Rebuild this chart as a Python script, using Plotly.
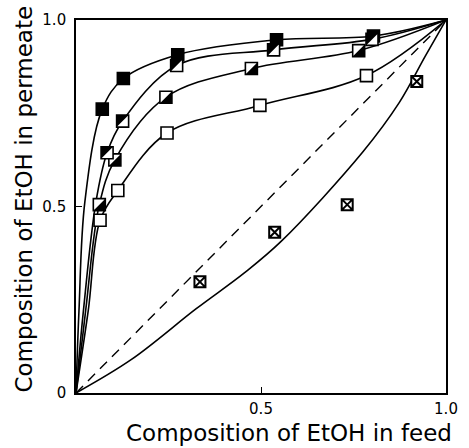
import plotly.graph_objects as go

# ---- data (feed fraction, permeate fraction) ----
feed_A = [0.071, 0.128, 0.275, 0.542, 0.804]
perm_A = [0.761, 0.843, 0.907, 0.947, 0.957]
feed_B = [0.084, 0.126, 0.272, 0.534, 0.800]
perm_B = [0.644, 0.729, 0.878, 0.920, 0.948]
feed_C = [0.063, 0.105, 0.243, 0.474, 0.764]
perm_C = [0.505, 0.625, 0.793, 0.870, 0.918]
feed_D = [0.065, 0.113, 0.246, 0.497, 0.785]
perm_D = [0.463, 0.543, 0.697, 0.771, 0.851]
feed_E = [0.335, 0.537, 0.733, 0.921]
perm_E = [0.298, 0.431, 0.505, 0.835]

# fitted curves
curve_A_x = [0, 0.008, 0.024, 0.071, 0.128, 0.275, 0.542, 0.804, 1.0]
curve_A_y = [0, 0.22, 0.513, 0.761, 0.843, 0.907, 0.947, 0.957, 1.0]
curve_B_x = [0, 0.020, 0.054, 0.084, 0.126, 0.272, 0.534, 0.800, 1.0]
curve_B_y = [0, 0.22, 0.513, 0.644, 0.729, 0.878, 0.920, 0.948, 1.0]
curve_C_x = [0, 0.026, 0.063, 0.105, 0.243, 0.474, 0.764, 1.0]
curve_C_y = [0, 0.22, 0.505, 0.625, 0.793, 0.870, 0.918, 1.0]
curve_D_x = [0, 0.033, 0.065, 0.113, 0.246, 0.497, 0.785, 1.0]
curve_D_y = [0, 0.22, 0.463, 0.543, 0.697, 0.771, 0.851, 1.0]
curve_E_x = [0, 0.15, 0.325, 0.455, 0.555, 0.775, 0.874, 0.944, 1.0]
curve_E_y = [0, 0.09, 0.226, 0.322, 0.407, 0.646, 0.779, 0.903, 1.0]
diag_x = [0, 1]
diag_y = [0, 1]

x_tickvals = [0.5, 1.0]
x_ticktext = ["0.5", "1.0"]
y_tickvals = [0, 0.5, 1.0]
y_ticktext = ["0", "0.5", "1.0"]

FONT = "DejaVu Sans"
MS = 12  # marker size px

fig = go.Figure()

for cx, cy in [(curve_A_x, curve_A_y), (curve_B_x, curve_B_y), (curve_C_x, curve_C_y),
               (curve_D_x, curve_D_y), (curve_E_x, curve_E_y)]:
    fig.add_trace(go.Scatter(x=cx, y=cy, mode="lines",
                             line=dict(color="black", width=1.6, shape="spline", smoothing=1.0),
                             hoverinfo="skip", showlegend=False))

fig.add_trace(go.Scatter(x=diag_x, y=diag_y, mode="lines",
                         line=dict(color="black", width=1.4, dash="10px,7px"),
                         showlegend=False))

# crossed squares
fig.add_trace(go.Scatter(x=feed_E, y=perm_E, mode="markers",
                         marker=dict(symbol="square-x", size=MS - 1, color="white",
                                     line=dict(color="black", width=2)),
                         showlegend=False))
# open squares
fig.add_trace(go.Scatter(x=feed_D, y=perm_D, mode="markers",
                         marker=dict(symbol="square", size=MS, color="white",
                                     line=dict(color="black", width=1.6)),
                         showlegend=False))
# half-filled squares (white base; black half added as pixel-sized shapes)
fig.add_trace(go.Scatter(x=feed_C, y=perm_C, mode="markers",
                         marker=dict(symbol="square", size=MS, color="white",
                                     line=dict(color="black", width=1.6)),
                         showlegend=False))
# filled squares
fig.add_trace(go.Scatter(x=feed_A, y=perm_A, mode="markers",
                         marker=dict(symbol="square", size=MS, color="black",
                                     line=dict(color="black", width=1.6)),
                         showlegend=False))
fig.add_trace(go.Scatter(x=feed_B, y=perm_B, mode="markers",
                         marker=dict(symbol="square", size=MS, color="white",
                                     line=dict(color="black", width=1.6)),
                         showlegend=False))

s = MS / 2
shapes = []
# upper-left black half
for xv, yv in zip(feed_B, perm_B):
    shapes.append(dict(type="path", xref="x", yref="y", xsizemode="pixel", ysizemode="pixel",
                       xanchor=xv, yanchor=yv,
                       path=f"M {-s},{s} L {s},{s} L {-s},{-s} Z",
                       fillcolor="black", line=dict(width=0)))
# lower-right black half
for xv, yv in zip(feed_C, perm_C):
    shapes.append(dict(type="path", xref="x", yref="y", xsizemode="pixel", ysizemode="pixel",
                       xanchor=xv, yanchor=yv,
                       path=f"M {s},{-s} L {-s},{-s} L {s},{s} Z",
                       fillcolor="black", line=dict(width=0)))

axis_common = dict(range=[0, 1], showgrid=False, zeroline=False, showline=True, mirror=True,
                   linecolor="black", linewidth=1.6, ticks="inside", ticklen=6, tickwidth=1.4,
                   tickcolor="black", tickfont=dict(family=FONT, size=15, color="black"))

fig.update_layout(
    width=469, height=448,
    margin=dict(l=76, r=11, t=17, b=55),
    paper_bgcolor="white", plot_bgcolor="white",
    shapes=shapes,
    xaxis=dict(**axis_common, tickvals=x_tickvals, ticktext=x_ticktext, ticklabelstandoff=1),
    yaxis=dict(**axis_common, tickvals=y_tickvals, ticktext=y_ticktext, ticklabelstandoff=5),
    annotations=[
        dict(text="Composition of EtOH in feed", xref="paper", yref="paper",
             x=0.575, y=-0.108, xanchor="center", yanchor="middle", showarrow=False,
             font=dict(family=FONT, size=23, color="black")),
        dict(text="Composition of EtOH in permeate", xref="paper", yref="paper",
             x=-0.141, y=0.521, xanchor="center", yanchor="middle", textangle=-90,
             showarrow=False, font=dict(family=FONT, size=23, color="black")),
    ],
)

fig.write_html("out.html")
